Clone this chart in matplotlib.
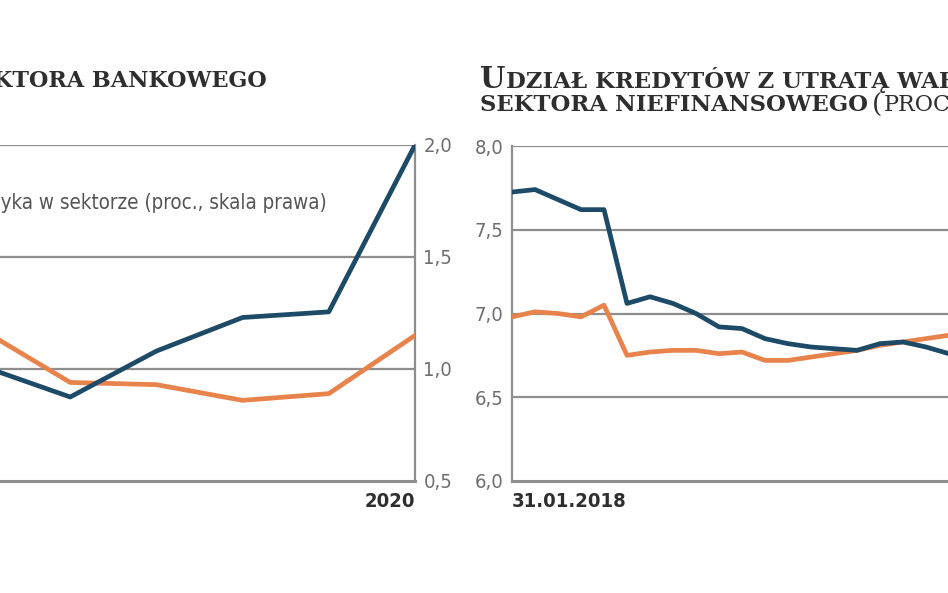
import matplotlib
matplotlib.use("Agg")
import matplotlib.pyplot as plt
import numpy as np

# left panel (cropped), yearly values, right-hand scale
years = [2015, 2016, 2017, 2018, 2019, 2020]
bank_blue = [1.01, 0.875, 1.08, 1.23, 1.255, 2.0]
bank_orange = [1.17, 0.94, 0.93, 0.86, 0.89, 1.15]
left_ticks = [0.5, 1.0, 1.5, 2.0]

# right panel, monthly values from 31.01.2018
months = np.arange(20)
impaired_blue = [7.725, 7.74, 7.68, 7.62, 7.62, 7.06, 7.10, 7.06, 7.00, 6.92,
                 6.91, 6.85, 6.82, 6.80, 6.79, 6.78, 6.82, 6.83, 6.80, 6.76]
impaired_orange = [6.98, 7.01, 7.00, 6.98, 7.05, 6.75, 6.77, 6.78, 6.78, 6.76,
                   6.77, 6.72, 6.72, 6.74, 6.76, 6.78, 6.81, 6.83, 6.85, 6.87]
right_ticks = [6.0, 6.5, 7.0, 7.5, 8.0]

BLUE = "#1d4a66"
ORANGE = "#e8834c"
GRID = "#8e8e8e"
TICK = "#6e6e6e"
TITLE = "#2e2e2e"
NARROW = dict(family="DejaVu Sans", stretch="condensed")
SERIF = dict(family="DejaVu Serif", fontweight="bold", color=TITLE)

W, H = 948, 593
fig = plt.figure(figsize=(W / 100, H / 100), dpi=100)
renderer = fig.canvas.get_renderer()


def box(x0, y0, x1, y1):
    # pixel box (top-left origin) -> figure fraction rect
    return [x0 / W, 1 - y1 / H, (x1 - x0) / W, (y1 - y0) / H]


def put(x, y, s, **kw):
    # text at pixel position, returns right edge in pixels
    t = fig.text(x / W, 1 - y / H, s, va="baseline", ha="left", **kw)
    return t.get_window_extent(renderer).x1


def width(s, **kw):
    t = fig.text(0, 0, s, **kw)
    w = t.get_window_extent(renderer).width
    t.remove()
    return w


def style(ax, ticks, side):
    for s in ax.spines.values():
        s.set_visible(False)
    ax.spines["bottom"].set_visible(True)
    ax.spines["bottom"].set_color(GRID)
    ax.spines["bottom"].set_linewidth(2.2)
    ax.spines[side].set_visible(True)
    ax.spines[side].set_color(GRID)
    ax.spines[side].set_linewidth(1.6)
    ax.set_yticks(ticks)
    ax.set_yticklabels([f"{t:.1f}".replace(".", ",") for t in ticks],
                       fontsize=14.5, color=TICK, **NARROW)
    ax.tick_params(axis="y", length=0, pad=6)
    ax.tick_params(axis="x", length=0, pad=8)
    for t in ticks[1:]:
        ax.axhline(t, color=GRID, lw=1.6, zorder=1)
    ax.set_facecolor("none")


# ---- left panel ----
axl = fig.add_axes(box(-16, 145, 415, 481))
axl.plot(years, bank_orange, color=ORANGE, lw=3.4, zorder=3)
axl.plot(years, bank_blue, color=BLUE, lw=3.4, zorder=4)
axl.set_xlim(years[0], years[-1])
axl.set_ylim(left_ticks[0], left_ticks[-1])
axl.yaxis.tick_right()
style(axl, left_ticks, "right")
axl.set_xticks([years[-1]])
axl.set_xticklabels([str(years[-1])], fontsize=14.5, fontweight="bold",
                    color=TITLE, ha="right", **NARROW)

put(-40, 87, "SEKTORA BANKOWEGO", fontsize=16, **SERIF)
legend_font = dict(fontsize=14.8, color="#555555", **NARROW)
put(-width("Koszt ryz", **legend_font) + 1, 209,
    "Koszt ryzyka w sektorze (proc., skala prawa)", **legend_font)

# ---- right panel ----
axr = fig.add_axes(box(512, 146, 949, 481))
axr.plot(months, impaired_orange, color=ORANGE, lw=3.4, zorder=3)
axr.plot(months, impaired_blue, color=BLUE, lw=3.4, zorder=4)
axr.set_xlim(months[0], months[-1])
axr.set_ylim(right_ticks[0], right_ticks[-1])
style(axr, right_ticks, "left")
axr.set_xticks([months[0]])
axr.set_xticklabels(["31.01.2018"], fontsize=14.5, fontweight="bold",
                    color=TITLE, ha="left", **NARROW)

x = put(480, 88, "U", fontsize=21, **SERIF)
put(x + 1, 88, "DZIAŁ KREDYTÓW Z UTRATĄ WARTOŚCI", fontsize=16.4, **SERIF)
x = put(480, 111, "SEKTORA NIEFINANSOWEGO", fontsize=16.4, **SERIF)
x = put(x + 4, 113, "(", fontsize=19, family="DejaVu Serif", color=TITLE)
put(x + 1, 111, "PROC.)", fontsize=16, family="DejaVu Serif", color=TITLE)

fig.savefig("out.png", dpi=100)
